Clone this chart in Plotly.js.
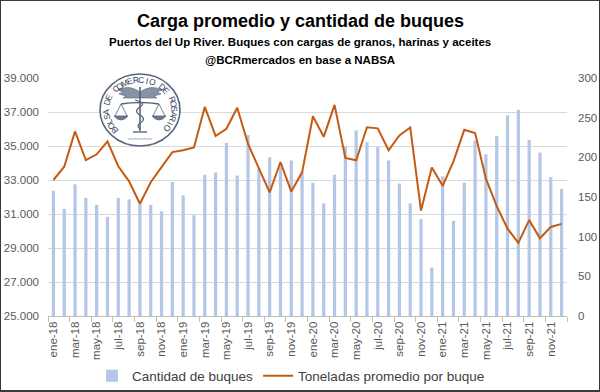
<!DOCTYPE html>
<html>
<head>
<meta charset="utf-8">
<script src="https://cdn.plot.ly/plotly-3.0.1.min.js"></script>
<style>
html,body{margin:0;padding:0;background:#fff;}
#wrap{position:relative;width:600px;height:392px;}
#chart{position:absolute;left:0;top:0;width:600px;height:392px;}
#frame{position:absolute;left:0;top:0;width:600px;height:392px;box-sizing:border-box;border:1px solid #3a3a3a;border-bottom-width:2px;pointer-events:none;}
</style>
</head>
<body>
<div id="wrap"><div id="chart"></div><div id="frame"></div></div>
<script>
// ---- data ----
const meses = [
 "ene-18","feb-18","mar-18","abr-18","may-18","jun-18","jul-18","ago-18","sep-18","oct-18","nov-18","dic-18",
 "ene-19","feb-19","mar-19","abr-19","may-19","jun-19","jul-19","ago-19","sep-19","oct-19","nov-19","dic-19",
 "ene-20","feb-20","mar-20","abr-20","may-20","jun-20","jul-20","ago-20","sep-20","oct-20","nov-20","dic-20",
 "ene-21","feb-21","mar-21","abr-21","may-21","jun-21","jul-21","ago-21","sep-21","oct-21","nov-21","dic-21"
];
const cantidadBuques = [
 158,135,166,149,140,125,149,147,141,140,132,169,
 152,127,178,181,218,177,228,186,200,191,196,182,
 168,142,178,214,234,219,213,196,167,142,122,61,
 176,120,168,221,204,227,253,260,222,206,175,160
];
const toneladasPromedio = [
 33000,33780,35860,34170,34510,35270,33810,32920,31600,32870,33760,34640,
 34750,34910,37300,35590,36010,37250,35120,33700,32270,34060,32320,33450,
 36750,35540,37420,34300,34160,36100,36040,34750,35620,36090,31200,33730,
 32660,34100,35950,35760,33080,31460,30140,29300,30640,29570,30240,30420
];
const tituloTexto = "Carga promedio y cantidad de buques";
const subtitulo1 = "Puertos del Up River. Buques con cargas de granos, harinas y aceites";
const subtitulo2 = "@BCRmercados en base a NABSA";
const logoTexto = "BOLSA DE COMERCIO DE ROSARIO";

// ---- layout helpers (decoration only) ----
const M = {l:48, r:33, t:78, b:76};
const PW = 600 - M.l - M.r, PH = 392 - M.t - M.b;
const px = x => (x - M.l) / PW;
const py = y => (392 - M.b - y) / PH;
function path(cmds){
  return cmds.map(c => {
    let s = c[0];
    for (let i = 1; i < c.length; i += 2) s += (i>1?' ':'') + px(c[i]).toFixed(5) + ',' + py(c[i+1]).toFixed(5);
    return s;
  }).join(' ');
}

const sans = '"Liberation Sans", Arial, sans-serif';
const tickGray = '#595959';

const traces = [
  {type:'bar', x:meses, y:cantidadBuques, name:'Cantidad de buques', yaxis:'y', xaxis:'x',
   marker:{color:'#b4c7e7'}},
  {type:'scatter', mode:'lines', x:meses, y:toneladasPromedio, name:'Toneladas promedio por buque',
   yaxis:'y2', xaxis:'x', line:{color:'#c55a11', width:2}}
];

const annotations = [
  {text:'<b>'+tituloTexto+'</b>', xref:'paper', yref:'paper', x:px(300), y:py(21), xanchor:'center', yanchor:'middle', showarrow:false, font:{family:sans, size:18, color:'#000'}},
  {text:'<b>'+subtitulo1+'</b>', xref:'paper', yref:'paper', x:px(300), y:py(41.5), xanchor:'center', yanchor:'middle', showarrow:false, font:{family:sans, size:11.5, color:'#000'}},
  {text:'<b>'+subtitulo2+'</b>', xref:'paper', yref:'paper', x:px(300), y:py(60), xanchor:'center', yanchor:'middle', showarrow:false, font:{family:sans, size:11.5, color:'#000'}}
];

// logo letters around the seal
const cx = 140, cy = 110, rx = 34, ry = 30;
const a0 = 222, a1 = -37;
for (let k = 0; k < logoTexto.length; k++) {
  const ch = logoTexto[k];
  if (ch === ' ') continue;
  const th = a0 + (a1 - a0) * k / (logoTexto.length - 1);
  const t = th * Math.PI / 180;
  const x = cx + rx * Math.cos(t), y = cy - ry * Math.sin(t);
  annotations.push({text:ch, xref:'paper', yref:'paper', x:px(x), y:py(y), xanchor:'center', yanchor:'middle',
    showarrow:false, textangle:90 - th, font:{family:sans, size:8.5, color:'#34425a'}});
}

const logoCol = '#56657d';
const shapes = [
  {type:'circle', xref:'paper', yref:'paper', x0:px(100), x1:px(180), y0:py(146), y1:py(74), fillcolor:'#fff', line:{color:logoCol, width:1.6}, layer:'above'},
  // wings
  {type:'path', xref:'paper', yref:'paper', layer:'above', fillcolor:'#8592a6', line:{color:logoCol, width:0.6},
   path: path([['M',140,92],['Q',129,84,118,90],['L',123,92],['L',119,94],['L',126,96],['L',123,98],['L',140,98],['Z']])},
  {type:'path', xref:'paper', yref:'paper', layer:'above', fillcolor:'#8592a6', line:{color:logoCol, width:0.6},
   path: path([['M',140,92],['Q',151,84,162,90],['L',157,92],['L',161,94],['L',154,96],['L',157,98],['L',140,98],['Z']])},
  // staff
  {type:'path', xref:'paper', yref:'paper', layer:'above', line:{color:logoCol, width:1.6}, path: path([['M',140,87],['L',140,131]])},
  // snakes
  {type:'path', xref:'paper', yref:'paper', layer:'above', line:{color:logoCol, width:1.2},
   path: path([['M',135,100],['Q',147,103,140,107],['Q',133,111,140,115],['Q',147,119,140,123],['Q',136,126,140,129]])},
  // beam
  {type:'path', xref:'paper', yref:'paper', layer:'above', line:{color:logoCol, width:1.4}, path: path([['M',121,104],['Q',140,101,159,104]])},
  // left scale
  {type:'path', xref:'paper', yref:'paper', layer:'above', line:{color:logoCol, width:0.8}, path: path([['M',115,116],['L',121,104],['L',127,116]])},
  {type:'path', xref:'paper', yref:'paper', layer:'above', fillcolor:'#6b7990', line:{color:logoCol, width:0.8}, path: path([['M',114,116],['Q',121,124,128,116],['Z']])},
  // right scale
  {type:'path', xref:'paper', yref:'paper', layer:'above', line:{color:logoCol, width:0.8}, path: path([['M',153,116],['L',159,104],['L',165,116]])},
  {type:'path', xref:'paper', yref:'paper', layer:'above', fillcolor:'#6b7990', line:{color:logoCol, width:0.8}, path: path([['M',152,116],['Q',159,124,166,116],['Z']])},
  // base
  {type:'path', xref:'paper', yref:'paper', layer:'above', line:{color:logoCol, width:1.4}, path: path([['M',133,132],['L',147,132]])},
  {type:'path', xref:'paper', yref:'paper', layer:'above', line:{color:'#8a97a8', width:0.8}, path: path([['M',128,139],['L',152,139]])}
];

const layout = {
  width:600, height:392,
  margin:{l:M.l, r:M.r, t:M.t, b:M.b, pad:0, autoexpand:false},
  paper_bgcolor:'#fff', plot_bgcolor:'#fff',
  separators:',.',
  font:{family:sans, color:tickGray, size:11.5},
  bargap:0.7,
  showlegend:true,
  legend:{orientation:'h', xref:'container', yref:'container', x:92/600, xanchor:'left', y:(392-376)/392, yanchor:'middle',
          font:{family:sans, size:13.5, color:'#404040'}, bgcolor:'rgba(0,0,0,0)', traceorder:'normal'},
  xaxis:{type:'category', range:[-0.5, meses.length - 0.5], tickmode:'linear', tick0:0, dtick:2,
         tickangle:-90, tickson:'boundaries', ticks:'outside', ticklen:5, tickcolor:'#bfbfbf',
         showline:true, linecolor:'#bfbfbf', linewidth:1, showgrid:false, zeroline:false, automargin:false,
         tickfont:{family:sans, size:11.5, color:tickGray}},
  yaxis:{side:'right', range:[0,300], dtick:50, tick0:0, showgrid:false, zeroline:false, showline:false, automargin:false,
         ticks:'', ticklabelstandoff:10, tickfont:{family:sans, size:11.5, color:tickGray}},
  yaxis2:{overlaying:'y', side:'left', range:[25000,39000], dtick:2000, tick0:25000, tickformat:',d', automargin:false,
          showgrid:true, gridcolor:'#d9d9d9', gridwidth:1, zeroline:false, showline:false, ticks:'',
          ticklabelstandoff:8, tickfont:{family:sans, size:11.5, color:tickGray}},
  annotations:annotations,
  shapes:shapes
};

Plotly.newPlot('chart', traces, layout, {displayModeBar:false, staticPlot:true});
</script>
</body>
</html>
